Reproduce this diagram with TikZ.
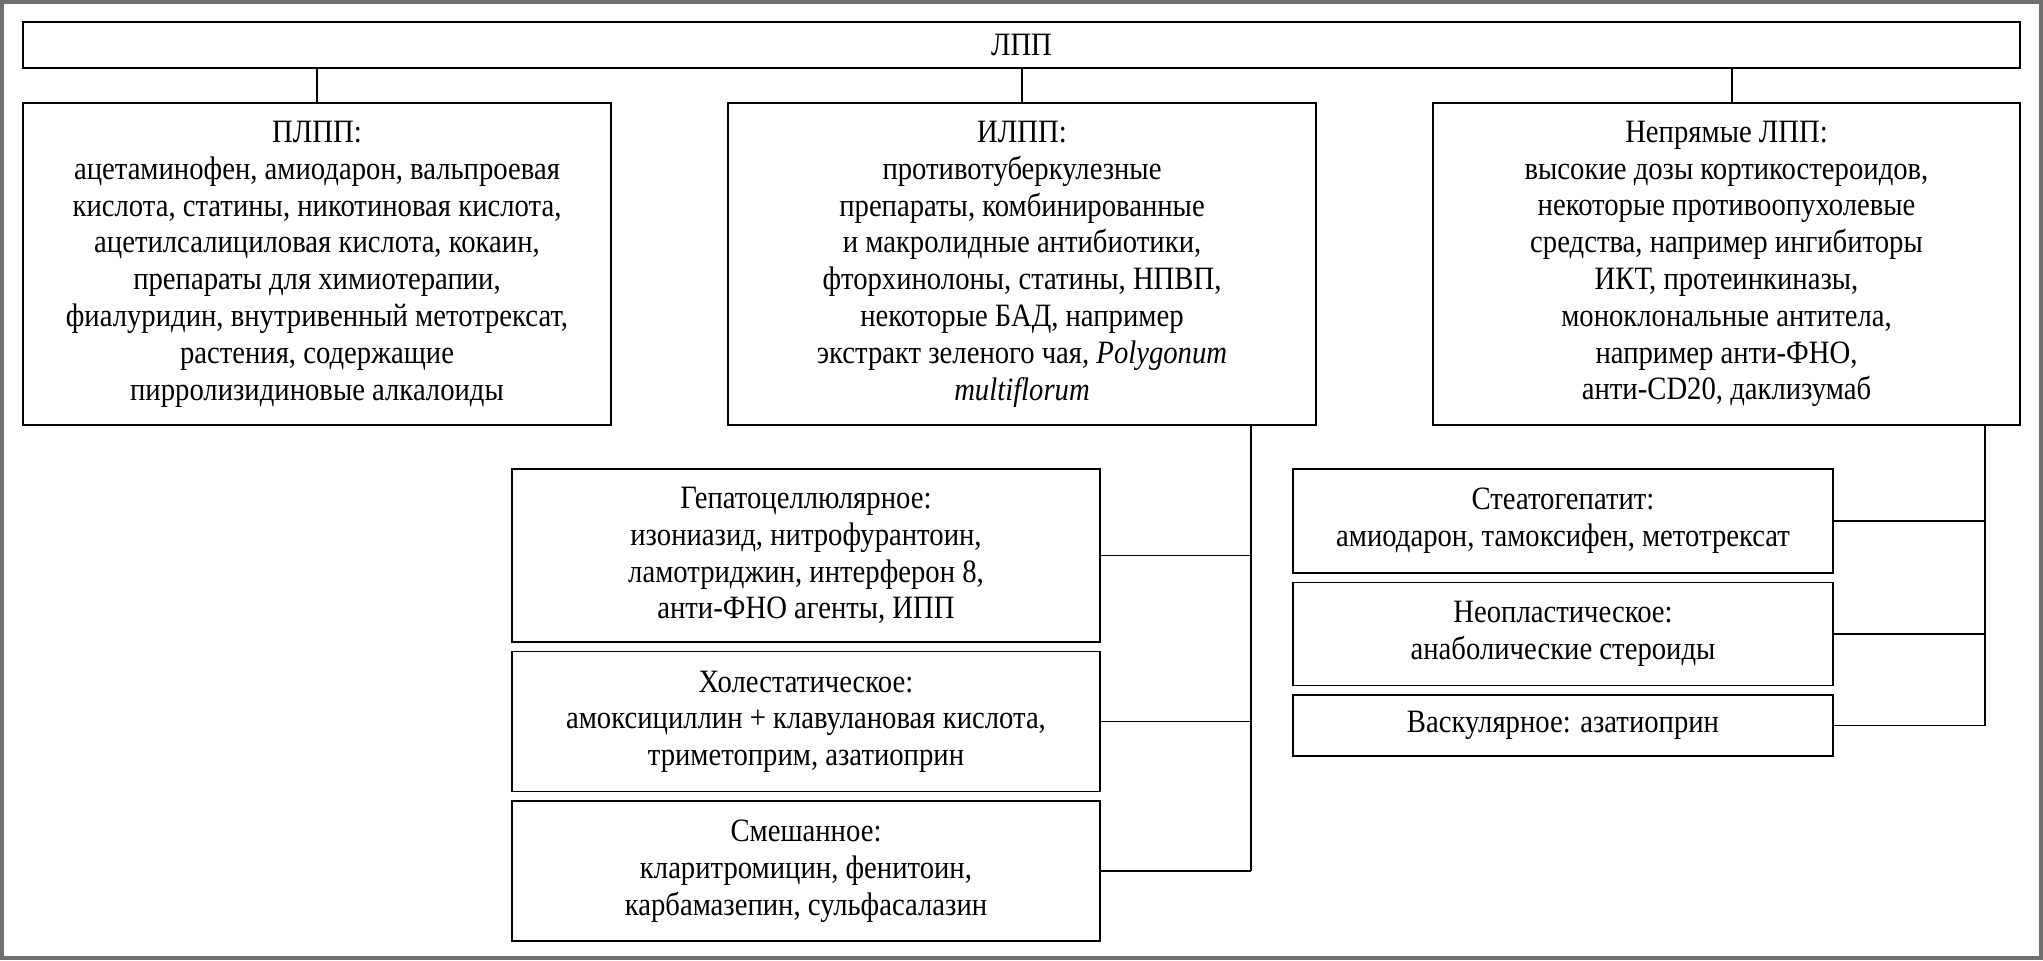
\documentclass[tikz,border=0pt]{standalone}
\usepackage{fontspec}
\setmainfont{Liberation Serif}[FakeStretch=0.88]
\usetikzlibrary{positioning}

\definecolor{framegray}{HTML}{707070}

\begin{document}
\begin{tikzpicture}[
    x=0.5pt, y=-0.5pt,
    node distance=4pt,
    box/.style={rectangle, draw, line width=0.8pt, inner sep=0pt, align=center, font=\fontsize{16.3}{18.4}\selectfont},
    link/.style={line width=0.75pt}
]
% frame round the page
\fill[framegray] (0,0) rectangle (2043,960);
\fill[white] (3.5,4) rectangle (2039,956);
\useasboundingbox (0,0) rectangle (2043,960);

\node[box, line width=1pt, minimum width=998.5pt, minimum height=23pt] (lpp) at (1021.5,45) {ЛПП};

\node[box, minimum width=294pt, minimum height=161pt] (plpp) at (317,264) {ПЛПП:\\ацетаминофен, амиодарон, вальпроевая\\кислота, статины, никотиновая кислота,\\ацетилсалициловая кислота, кокаин,\\препараты для химиотерапии,\\фиалуридин, внутривенный метотрексат,\\растения, содержащие\\пирролизидиновые алкалоиды};
\node[box, minimum width=294pt, minimum height=161pt] (ilpp) at (1022,264) {ИЛПП:\\противотуберкулезные\\препараты, комбинированные\\и макролидные антибиотики,\\фторхинолоны, статины, НПВП,\\некоторые БАД, например\\экстракт зеленого чая, \textit{Polygonum}\\\textit{multiflorum}};
\node[box, minimum width=293.5pt, minimum height=161pt] (nlpp) at (1726.5,264) {Непрямые ЛПП:\\высокие дозы кортикостероидов,\\некоторые противоопухолевые\\средства, например ингибиторы\\ИКТ, протеинкиназы,\\моноклональные антитела,\\например анти-ФНО,\\анти-CD20, даклизумаб};

% middle column
\node[box, minimum width=294pt, minimum height=86.5pt] (hep) at (806,555.5) {Гепатоцеллюлярное:\\изониазид, нитрофурантоин,\\ламотриджин, интерферон 8,\\анти-ФНО агенты, ИПП};
\node[box, minimum width=294pt, minimum height=70pt, below=of hep] (chol) {Холестатическое:\\амоксициллин + клавулановая кислота,\\триметоприм, азатиоприн};
\node[box, minimum width=294pt, minimum height=70pt, below=of chol] (mix) {Смешанное:\\кларитромицин, фенитоин,\\карбамазепин, сульфасалазин};

% right column
\node[box, minimum width=270pt, minimum height=52pt] (steato) at (1563,521) {Стеатогепатит:\\амиодарон, тамоксифен, метотрексат};
\node[box, minimum width=270pt, minimum height=51.5pt, below=of steato] (neo) {Неопластическое:\\анаболические стероиды};
\node[box, minimum width=270pt, minimum height=30.5pt, below=of neo] (vasc) {Васкулярное: азатиоприн};

\coordinate (nlpptop) at (1732,0);
\coordinate (busmid) at (1251,0);
\coordinate (busright) at (1985,0);

\foreach \n in {plpp, ilpp}
    \draw[link] (\n.north) -- (\n.north |- lpp.south);
\draw[link] (nlpptop |- nlpp.north) -- (nlpptop |- lpp.south);

\draw[link] (busmid |- ilpp.south) -- (busmid |- mix.east);
\foreach \n in {hep, chol, mix}
    \draw[link] (\n.east) -- (\n.east -| busmid);

\draw[link] (busright |- nlpp.south) -- (busright |- vasc.east);
\foreach \n in {steato, neo, vasc}
    \draw[link] (\n.east) -- (\n.east -| busright);
\end{tikzpicture}
\end{document}
